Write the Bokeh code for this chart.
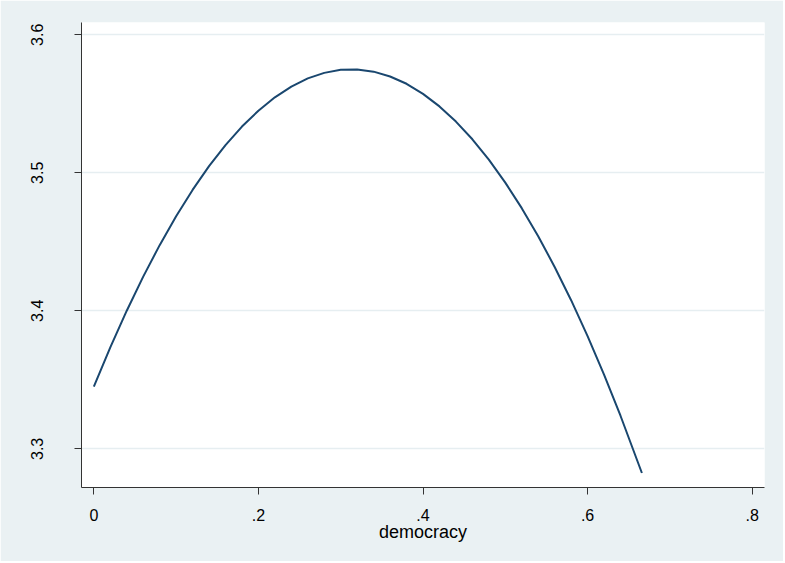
from bokeh.plotting import figure
from bokeh.models import Range1d, FixedTicker, ColumnDataSource
from bokeh.embed import file_html
from bokeh.resources import INLINE

# Fitted curve
democracy = [0.00, 0.02, 0.04, 0.06, 0.08, 0.10, 0.12, 0.14, 0.16, 0.18,
             0.20, 0.22, 0.24, 0.26, 0.28, 0.30, 0.32, 0.34, 0.36, 0.38,
             0.40, 0.42, 0.44, 0.46, 0.48, 0.50, 0.52, 0.54, 0.56, 0.58,
             0.60, 0.62, 0.64, 0.666]
fitted = [3.3451, 3.3735, 3.4001, 3.4248, 3.4476, 3.4685, 3.4876, 3.5048,
          3.5201, 3.5335, 3.5450, 3.5547, 3.5625, 3.5684, 3.5724, 3.5746,
          3.5749, 3.5733, 3.5698, 3.5645, 3.5572, 3.5481, 3.5371, 3.5243,
          3.5095, 3.4929, 3.4744, 3.4541, 3.4318, 3.4077, 3.3817, 3.3538,
          3.3240, 3.2825]

x_ticks = [0, 0.2, 0.4, 0.6, 0.8]
x_tick_labels = ["0", ".2", ".4", ".6", ".8"]
y_ticks = [3.3, 3.4, 3.5, 3.6]
y_tick_labels = ["3.3", "3.4", "3.5", "3.6"]

BG = "#eaf1f3"
FONT = "Liberation Sans"

p = figure(width=783, height=561, output_backend="svg", toolbar_location=None,
           x_range=Range1d(-0.0150, 0.8150), y_range=Range1d(3.2720, 3.6089),
           min_border_left=81, min_border_right=19, min_border_top=22,
           min_border_bottom=74)
p.background_fill_color = "white"
p.border_fill_color = BG
p.outline_line_color = None

src = ColumnDataSource(dict(x=democracy, y=fitted))
p.line("x", "y", source=src, line_color="#1a476f", line_width=2,
       line_join="round")

# x axis
xa = p.xaxis[0]
xa.ticker = FixedTicker(ticks=x_ticks)
xa.major_label_overrides = {t: l for t, l in zip(x_ticks, x_tick_labels)}
xa.axis_label = "democracy"
xa.axis_label_text_font = FONT
xa.axis_label_text_font_size = "18px"
xa.axis_label_text_font_style = "normal"
xa.axis_label_text_color = "black"
xa.axis_label_standoff = -2
xa.major_label_text_font = FONT
xa.major_label_text_font_size = "16px"
xa.major_label_text_color = "black"
xa.major_label_standoff = 14
xa.major_tick_out = 7
xa.major_tick_in = 0
xa.minor_tick_out = 0
xa.minor_tick_in = 0
xa.axis_line_color = "#333333"
xa.major_tick_line_color = "#333333"

# y axis
ya = p.yaxis[0]
ya.ticker = FixedTicker(ticks=y_ticks)
ya.major_label_overrides = {t: l for t, l in zip(y_ticks, y_tick_labels)}
ya.major_label_orientation = "vertical"
ya.major_label_text_font = FONT
ya.major_label_text_font_size = "16px"
ya.major_label_text_color = "black"
ya.major_label_standoff = 31
ya.major_tick_out = 7
ya.major_tick_in = 0
ya.minor_tick_out = 0
ya.minor_tick_in = 0
ya.axis_line_color = "#333333"
ya.major_tick_line_color = "#333333"

p.xgrid.grid_line_color = None
p.ygrid.grid_line_color = "#e6eef1"
p.ygrid.grid_line_width = 1.5

open("out.html", "w").write(file_html(p, INLINE))
